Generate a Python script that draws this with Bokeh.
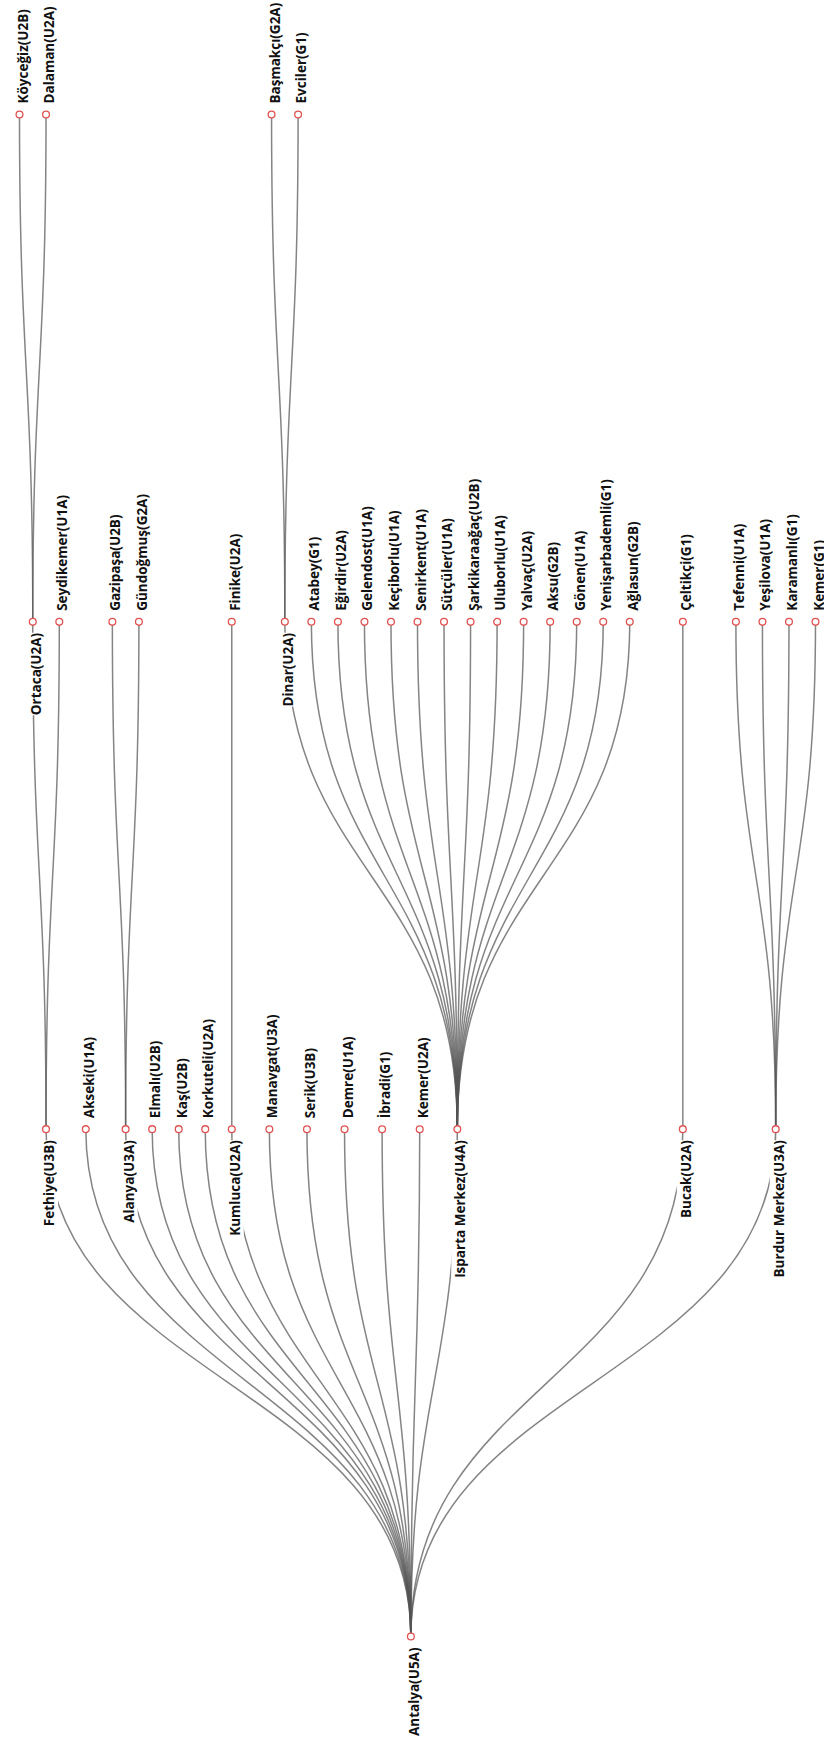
import math
from bokeh.plotting import figure
from bokeh.models import Range1d, ColumnDataSource
from bokeh.core.properties import value
from bokeh.embed import file_html
from bokeh.resources import INLINE

# ---- data: tree structure (child -> parent), in drawing order ----
root_name = "Antalya(U5A)"
node_names = [
    "Fethiye(U3B)", "Akseki(U1A)", "Alanya(U3A)", "Elmalı(U2B)", "Kaş(U2B)",
    "Korkuteli(U2A)", "Kumluca(U2A)", "Manavgat(U3A)", "Serik(U3B)", "Demre(U1A)",
    "İbradi(G1)", "Kemer(U2A)", "Isparta Merkez(U4A)", "Bucak(U2A)", "Burdur Merkez(U3A)",
    "Ortaca(U2A)", "Seydikemer(U1A)",
    "Köyceğiz(U2B)", "Dalaman(U2A)",
    "Gazipaşa(U2B)", "Gündoğmuş(G2A)",
    "Finike(U2A)",
    "Dinar(U2A)", "Atabey(G1)", "Eğirdir(U2A)", "Gelendost(U1A)", "Keçiborlu(U1A)",
    "Senirkent(U1A)", "Sütçüler(U1A)", "Şarkikaraağaç(U2B)", "Uluborlu(U1A)",
    "Yalvaç(U2A)", "Aksu(G2B)", "Gönen(U1A)", "Yenişarbademli(G1)", "Ağlasun(G2B)",
    "Başmakçı(G2A)", "Evciler(G1)",
    "Çeltikçi(G1)",
    "Tefenni(U1A)", "Yeşilova(U1A)", "Karamanlı(G1)", "Kemer(G1)",
]
parent_names = (
    ["Antalya(U5A)"] * 15
    + ["Fethiye(U3B)"] * 2
    + ["Ortaca(U2A)"] * 2
    + ["Alanya(U3A)"] * 2
    + ["Kumluca(U2A)"]
    + ["Isparta Merkez(U4A)"] * 14
    + ["Dinar(U2A)"] * 2
    + ["Bucak(U2A)"]
    + ["Burdur Merkez(U3A)"] * 4
)

# ---- tidy tree layout (Reingold-Tilford / Buchheim, as in d3.tree) ----
class TNode:
    def __init__(self, name, i):
        self.name = name
        self.parent = None
        self.children = []
        self.A = None
        self.a = self
        self.z = 0.0
        self.m = 0.0
        self.c = 0.0
        self.s = 0.0
        self.t = None
        self.i = i
        self.x = 0.0
        self.depth = 0


nodes = {root_name: TNode(root_name, 0)}
for nm, pn in zip(node_names, parent_names):
    par = nodes[pn]
    nd = TNode(nm, len(par.children))
    nd.parent = par
    nd.depth = par.depth + 1
    par.children.append(nd)
    nodes[nm] = nd
root = nodes[root_name]


def sep(a, b):
    return 1 if a.parent is b.parent else 2


def next_left(v):
    return v.children[0] if v.children else v.t


def next_right(v):
    return v.children[-1] if v.children else v.t


def move_subtree(wm, wp, shift):
    change = shift / (wp.i - wm.i)
    wp.c -= change
    wp.s += shift
    wm.c += change
    wp.z += shift
    wp.m += shift


def execute_shifts(v):
    shift = 0.0
    change = 0.0
    for w in reversed(v.children):
        w.z += shift
        w.m += shift
        change += w.c
        shift += w.s + change


def next_ancestor(vim, v, ancestor):
    return vim.a if vim.a.parent is v.parent else ancestor


def apportion(v, w, ancestor):
    if w is not None:
        vip = vop = v
        vim = w
        vom = vip.parent.children[0]
        sip, sop, sim, som = vip.m, vop.m, vim.m, vom.m
        while True:
            vim = next_right(vim)
            vip = next_left(vip)
            if vim is None or vip is None:
                break
            vom = next_left(vom)
            vop = next_right(vop)
            vop.a = v
            shift = vim.z + sim - vip.z - sip + sep(vim, vip)
            if shift > 0:
                move_subtree(next_ancestor(vim, v, ancestor), v, shift)
                sip += shift
                sop += shift
            sim += vim.m
            sip += vip.m
            som += vom.m
            sop += vop.m
        if vim is not None and next_right(vop) is None:
            vop.t = vim
            vop.m += sim - sop
        if vip is not None and next_left(vom) is None:
            vom.t = vip
            vom.m += sip - som
            ancestor = v
    return ancestor


def first_walk(v):
    siblings = v.parent.children
    w = siblings[v.i - 1] if v.i else None
    if v.children:
        execute_shifts(v)
        mid = (v.children[0].z + v.children[-1].z) / 2
        if w is not None:
            v.z = w.z + sep(v, w)
            v.m = v.z - mid
        else:
            v.z = mid
    elif w is not None:
        v.z = w.z + sep(v, w)
    v.parent.A = apportion(v, w, v.parent.A or siblings[0])


def post_order(v, out):
    for ch in v.children:
        post_order(ch, out)
    out.append(v)
    return out


def pre_order(v, out):
    out.append(v)
    for ch in v.children:
        pre_order(ch, out)
    return out


fake = TNode(None, 0)
fake.children = [root]
root.parent = fake
for v in post_order(root, []):
    first_walk(v)
fake.m = -root.z
for v in pre_order(root, []):
    v.x = v.z + v.parent.m
    v.m += v.parent.m
root.parent = None

# ---- map layout to page pixels ----
all_nodes = pre_order(root, [])
xmin = min(n.x for n in all_nodes)
xmax = max(n.x for n in all_nodes)
maxdepth = max(n.depth for n in all_nodes)
LEFT_PX, RIGHT_PX = 19.0, 815.0
ROOT_Y, TOP_Y = 1636.0, 114.0


def px(n):
    return LEFT_PX + (n.x - xmin) / (xmax - xmin) * (RIGHT_PX - LEFT_PX)


def py(n):
    return ROOT_Y - n.depth * (ROOT_Y - TOP_Y) / maxdepth


# ---- figure ----
W, H = 824, 1741
p = figure(width=W, height=H, x_range=Range1d(0, W), y_range=Range1d(H, 0),
           output_backend="svg", toolbar_location=None,
           x_axis_location=None, y_axis_location=None, min_border=0)
p.grid.visible = False
p.outline_line_color = None
p.background_fill_color = "white"
p.border_fill_color = "white"

# links (vertical bezier)
lk = dict(x0=[], y0=[], x1=[], y1=[], cx0=[], cy0=[], cx1=[], cy1=[])
for n in all_nodes:
    if n.parent is None:
        continue
    sx, sy, tx, ty = px(n.parent), py(n.parent), px(n), py(n)
    mid = (sy + ty) / 2
    lk["x0"].append(sx); lk["y0"].append(sy)
    lk["x1"].append(tx); lk["y1"].append(ty)
    lk["cx0"].append(sx); lk["cy0"].append(mid)
    lk["cx1"].append(tx); lk["cy1"].append(mid)
p.bezier(x0="x0", y0="y0", x1="x1", y1="y1", cx0="cx0", cy0="cy0", cx1="cx1", cy1="cy1",
         source=ColumnDataSource(lk), line_color="#555555", line_alpha=0.72, line_width=1.5)

# nodes
p.scatter(x=[px(n) for n in all_nodes], y=[py(n) for n in all_nodes], marker="circle",
          size=6.8, fill_color="white", line_color="#e05252", line_width=1.3)

# labels
GAP = 11
BASE = 3
leaves = [n for n in all_nodes if not n.children]
inner = [n for n in all_nodes if n.children]
p.text(x=[px(n) + BASE for n in leaves], y=[py(n) - GAP for n in leaves],
       text=[n.name for n in leaves], angle=math.pi / 2,
       text_align="left", text_baseline="alphabetic",
       text_font=value("Open Sans"), text_font_size="13.5px", text_font_style="bold",
       text_color="#111111")
p.text(x=[px(n) + BASE for n in inner], y=[py(n) + GAP for n in inner],
       text=[n.name for n in inner], angle=math.pi / 2,
       text_align="right", text_baseline="alphabetic",
       text_font=value("Open Sans"), text_font_size="13.5px", text_font_style="bold",
       text_color="#111111", background_fill_color="white")

open("out.html", "w").write(file_html(p, INLINE))
